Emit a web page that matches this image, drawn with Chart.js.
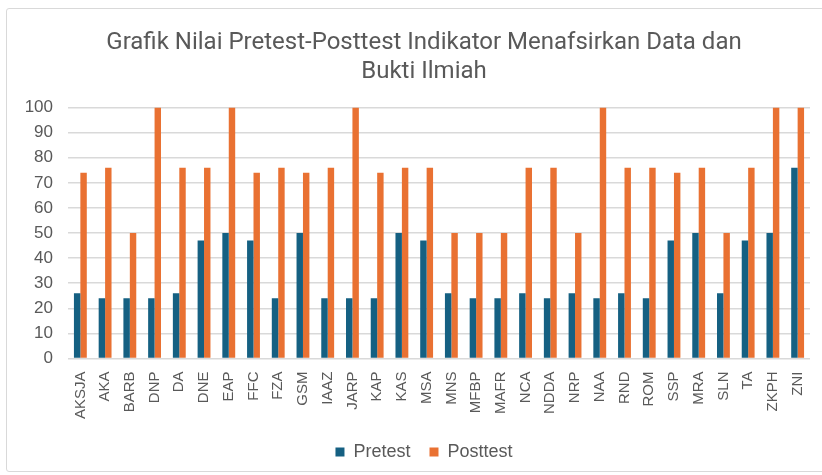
<!DOCTYPE html>
<html lang="id">
<head>
    <meta charset="UTF-8">
    <title>Grafik Nilai Pretest-Posttest</title>
    <script src="https://cdn.jsdelivr.net/npm/chart.js"></script>
    <style>
        body {
            margin: 0;
            background: #ffffff;
        }
        .frame {
            position: absolute;
            left: 6px;
            top: 8px;
            width: 830px;
            height: 462px;
            border: 1px solid #d9d9d9;
            border-radius: 3px;
        }
        .wrap {
            position: absolute;
            left: 0;
            top: 0;
            width: 822px;
            height: 475px;
        }
    </style>
</head>
<body>
    <div class="frame"></div>
    <div class="wrap">
        <canvas id="nilaiChart" width="822" height="475"></canvas>
    </div>

    <script>
        // data siswa
        const students = ['AKSJA', 'AKA', 'BARB', 'DNP', 'DA', 'DNE', 'EAP', 'FFC', 'FZA', 'GSM',
            'IAAZ', 'JARP', 'KAP', 'KAS', 'MSA', 'MNS', 'MFBP', 'MAFR', 'NCA', 'NDDA',
            'NRP', 'NAA', 'RND', 'ROM', 'SSP', 'MRA', 'SLN', 'TA', 'ZKPH', 'ZNI'];
        const pretest = [26, 24, 24, 24, 26, 47, 50, 47, 24, 50,
            24, 24, 24, 50, 47, 26, 24, 24, 26, 24,
            26, 24, 26, 24, 47, 50, 26, 47, 50, 76];
        const posttest = [74, 76, 50, 100, 76, 76, 100, 74, 76, 74,
            76, 100, 74, 76, 76, 50, 50, 50, 76, 76,
            50, 100, 76, 76, 74, 76, 50, 76, 100, 100];
        const titleLines = ['Grafik Nilai Pretest-Posttest Indikator Menafsirkan Data dan', 'Bukti Ilmiah'];

        const textColor = '#595959';

        const ctx = document.getElementById('nilaiChart').getContext('2d');
        const chart = new Chart(ctx, {
            type: 'bar',
            data: {
                labels: students,
                datasets: [
                    {
                        label: 'Pretest',
                        data: pretest,
                        backgroundColor: '#156082',
                        categoryPercentage: 0.52,
                        barPercentage: 1.0
                    },
                    {
                        label: 'Posttest',
                        data: posttest,
                        backgroundColor: '#E97132',
                        categoryPercentage: 0.52,
                        barPercentage: 1.0
                    }
                ]
            },
            options: {
                responsive: false,
                animation: false,
                layout: {
                    // kiri lebih besar supaya legenda agak ke kanan seperti aslinya
                    padding: { left: 26, right: 0, top: 8, bottom: 4 }
                },
                plugins: {
                    title: {
                        display: true,
                        text: titleLines,
                        color: textColor,
                        font: { family: 'Roboto', size: 24, weight: 'normal', lineHeight: 1.2 },
                        padding: { top: 21, bottom: 21 }
                    },
                    legend: {
                        position: 'bottom',
                        labels: {
                            color: textColor,
                            font: { family: 'Liberation Sans', size: 18 },
                            boxWidth: 9,
                            boxHeight: 9,
                            padding: 19
                        }
                    },
                    tooltip: { enabled: false }
                },
                scales: {
                    x: {
                        grid: { display: false },
                        border: { display: false },
                        ticks: {
                            color: textColor,
                            font: { family: 'Liberation Sans', size: 15 },
                            maxRotation: 90,
                            minRotation: 90,
                            autoSkip: false,
                            padding: 5
                        }
                    },
                    y: {
                        min: 0,
                        max: 100,
                        grid: { color: '#d9d9d9', lineWidth: 1.5, drawTicks: false },
                        border: { display: false },
                        ticks: {
                            stepSize: 10,
                            color: textColor,
                            font: { family: 'Liberation Sans', size: 17 },
                            padding: 15
                        },
                        afterFit: function (scale) { scale.width = 42; }
                    },
                    // sumbu kosong di kanan, hanya untuk jarak
                    yKanan: {
                        position: 'right',
                        grid: { display: false },
                        border: { display: false },
                        ticks: { display: false },
                        afterFit: function (scale) { scale.width = 12; }
                    }
                }
            }
        });
    </script>
</body>
</html>
